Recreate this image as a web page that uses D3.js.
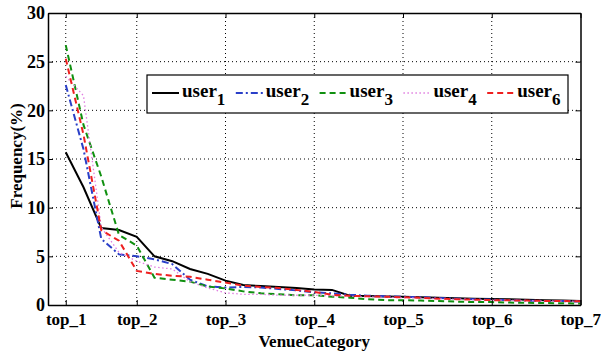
<!DOCTYPE html>
<html><head><meta charset="utf-8">
<script src="https://cdn.jsdelivr.net/npm/d3@7"></script>
<style>body{margin:0;background:#fff}svg{display:block}
svg text{font-family:"Liberation Serif","Times New Roman","DejaVu Serif",serif;font-weight:bold}</style>
</head><body>
<svg id="c" width="601" height="352"></svg>
<script>
const ranks = d3.range(1, 31);
const tickValues = [1, 5, 10, 15, 20, 25, 30];
const tickLabels = ["top_1", "top_2", "top_3", "top_4", "top_5", "top_6", "top_7"];
const yTicks = [0, 5, 10, 15, 20, 25, 30];
const user1 = [15.7,12.1,7.9,7.7,7.0,5.0,4.5,3.7,3.2,2.5,2.05,1.95,1.85,1.75,1.6,1.55,0.95,0.92,0.88,0.85,0.8,0.75,0.7,0.65,0.62,0.58,0.55,0.5,0.45,0.42];
const user2 = [22.6,16.0,6.8,5.2,5.0,4.7,4.2,2.6,1.9,1.8,1.85,1.8,1.65,1.5,1.3,1.2,1.05,0.95,0.9,0.85,0.8,0.72,0.65,0.6,0.55,0.5,0.45,0.42,0.4,0.35];
const user3 = [26.7,18.5,13.2,7.2,6.1,2.8,2.6,2.4,1.9,1.7,1.4,1.2,1.1,1.0,1.0,0.85,0.75,0.6,0.5,0.5,0.45,0.4,0.35,0.3,0.3,0.25,0.22,0.2,0.18,0.15];
const user4 = [23.5,21.5,8.0,5.4,4.5,3.9,3.7,2.4,1.75,1.25,1.1,1.1,1.0,1.0,1.0,0.95,0.9,0.85,0.8,0.75,0.7,0.65,0.6,0.55,0.5,0.48,0.45,0.42,0.4,0.38];
const user6 = [25.3,17.5,7.7,6.6,3.5,3.2,3.0,2.9,2.6,2.3,2.0,1.85,1.75,1.55,1.35,1.05,0.95,0.9,0.85,0.8,0.75,0.65,0.6,0.55,0.5,0.48,0.45,0.42,0.4,0.38];
const seriesNames = ["user1", "user2", "user3", "user4", "user6"];
const seriesSubs = ["1", "2", "3", "4", "6"];
const seriesData = [user1, user2, user3, user4, user6];
const seriesColors = ["#000000", "#2a3fc8", "#109010", "#e07ee0", "#ee2020"];
const seriesDash = [null, "7,3,2,3", "6,4", "1.5,2.5", "6,4"];
const seriesWidth = [2, 2, 2, 1.3, 2];

const svg = d3.select("#c");
const L = 48, R = 580.5, T = 13, B = 305;
const x = d3.scaleLinear().domain([0, 30]).range([L, R]);
const y = d3.scaleLinear().domain([0, 30]).range([B, T]);

// grid
const g = svg.append("g");
g.selectAll(".vg").data(tickValues.slice(0, -1)).enter().append("line")
  .attr("x1", d => x(d)).attr("x2", d => x(d)).attr("y1", T).attr("y2", B)
  .attr("stroke", "#000").attr("stroke-width", 1).attr("stroke-dasharray", "1,3");
g.selectAll(".hg").data(yTicks.slice(1, -1)).enter().append("line")
  .attr("x1", L).attr("x2", R).attr("y1", d => y(d)).attr("y2", d => y(d))
  .attr("stroke", "#000").attr("stroke-width", 1).attr("stroke-dasharray", "1,3");

// lines
const line = d3.line().x((d, i) => x(ranks[i])).y(d => y(d));
seriesData.forEach((s, k) => {
  svg.append("path").datum(s).attr("d", line).attr("fill", "none")
    .attr("stroke", seriesColors[k]).attr("stroke-width", seriesWidth[k])
    .attr("stroke-dasharray", seriesDash[k]);
});

// axes
const xAxis = d3.axisBottom(x).tickValues(tickValues).tickFormat((d, i) => tickLabels[i]).tickSizeInner(-5).tickSizeOuter(0).tickPadding(8);
const yAxis = d3.axisLeft(y).tickValues(yTicks).tickSizeInner(-5).tickSizeOuter(0).tickPadding(3);
const xa = svg.append("g").attr("transform", `translate(0,${B})`).call(xAxis);
const ya = svg.append("g").attr("transform", `translate(${L},0)`).call(yAxis);
const xt = svg.append("g").attr("transform", `translate(0,${T})`).call(d3.axisTop(x).tickValues(tickValues).tickFormat("").tickSizeInner(-5).tickSizeOuter(0));
const yr = svg.append("g").attr("transform", `translate(${R},0)`).call(d3.axisRight(y).tickValues(yTicks).tickFormat("").tickSizeInner(-5).tickSizeOuter(0));
[xa, ya, xt, yr].forEach(a => {
  a.attr("font-family", null);
  a.select(".domain").attr("stroke", "#000").attr("stroke-width", 1.5);
  a.selectAll(".tick line").attr("stroke", "#000").attr("stroke-width", 1);
  a.selectAll("text").attr("font-size", 18).attr("fill", "#000");
});
xa.selectAll("text").attr("font-size", 17);
xa.selectAll(".tick:last-of-type text").attr("text-anchor", "end").attr("dx", 20);

svg.append("text").attr("x", (L + R) / 2).attr("y", 347).attr("text-anchor", "middle")
  .attr("font-size", 17).text("VenueCategory");
svg.append("text").attr("transform", `translate(22,${(T + B) / 2 - 3}) rotate(-90)`).attr("text-anchor", "middle")
  .attr("font-size", 17).text("Frequency(%)");

// legend
const lg = svg.append("g");
lg.append("rect").attr("x", 147).attr("y", 75).attr("width", 421).attr("height", 38)
  .attr("fill", "#fff").attr("stroke", "#000").attr("stroke-width", 1.2);
seriesNames.forEach((n, k) => {
  const x0 = 152 + k * 83.8;
  lg.append("line").attr("x1", x0).attr("x2", x0 + 27).attr("y1", 93).attr("y2", 93)
    .attr("stroke", seriesColors[k]).attr("stroke-width", seriesWidth[k]).attr("stroke-dasharray", seriesDash[k]);
  const t = lg.append("text").attr("x", x0 + 30).attr("y", 97).attr("font-size", 19);
  t.append("tspan").text("user");
  t.append("tspan").attr("dy", 8).attr("font-size", 17).text(seriesSubs[k]);
});
</script>
</body></html>
